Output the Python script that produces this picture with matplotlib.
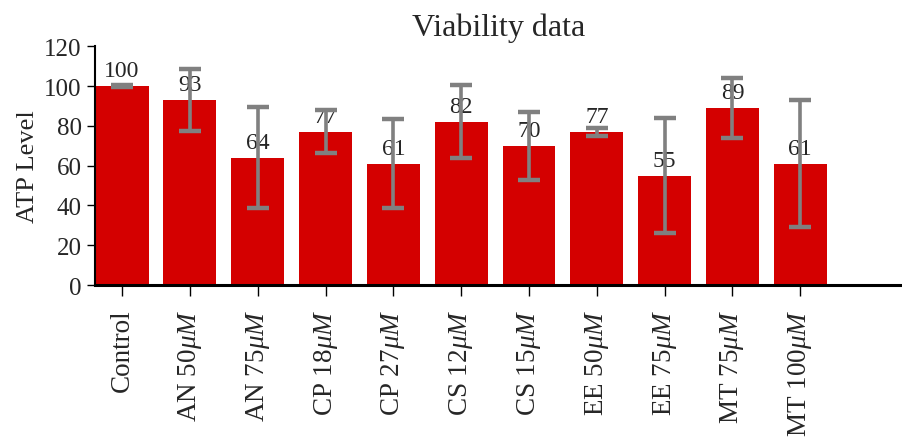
import matplotlib
matplotlib.use("Agg")
import matplotlib.pyplot as plt
import numpy as np

# Treatment groups and measured ATP levels (percent of control)
categories = ["Control", r"AN 50$\mu M$", r"AN 75$\mu M$", r"CP 18$\mu M$",
              r"CP 27$\mu M$", r"CS 12$\mu M$", r"CS 15$\mu M$", r"EE 50$\mu M$",
              r"EE 75$\mu M$", r"MT 75$\mu M$", r"MT 100$\mu M$"]
atp_level = [100, 93, 64, 77, 61, 82, 70, 77, 55, 89, 61]
atp_error = [0.5, 15.4, 25.3, 10.8, 22.3, 18.3, 17.0, 2.1, 28.7, 15.0, 32.0]
yticks = [0, 20, 40, 60, 80, 100, 120]

plt.rcParams["font.family"] = ["Liberation Serif", "DejaVu Serif"]
plt.rcParams["mathtext.fontset"] = "custom"
plt.rcParams["mathtext.rm"] = "Liberation Serif"
plt.rcParams["mathtext.it"] = "Liberation Serif:italic"
text_color = "#262626"

fig = plt.figure(figsize=(9.02, 4.39), dpi=100)
ax = fig.add_axes([0.1053, 0.3485, 0.8947, 0.5438])

x = np.arange(len(categories))
ax.bar(x, atp_level, width=0.78, color="#d40000", zorder=2)
for xi, v in zip(x, atp_level):
    ax.annotate(f"{v}", (xi, v), xytext=(0, 7), textcoords="offset points",
                ha="center", va="baseline", fontsize=17, color=text_color, zorder=3)
ax.errorbar(x, atp_level, yerr=atp_error, fmt="none", ecolor="#808080",
            elinewidth=2.6, capsize=8, capthick=3.2, zorder=4)

ax.set_xlim(-0.4, 11.5)
ax.set_ylim(0, 120)
ax.set_yticks(yticks)
ax.set_xticks(x)
ax.set_xticklabels(categories, rotation=90, fontsize=19.5, color=text_color)
ax.tick_params(axis="y", labelsize=18, labelcolor=text_color, length=6, width=1)
ax.tick_params(axis="x", length=8, width=1, pad=9)
ax.set_ylabel("ATP Level", fontsize=19, color=text_color, labelpad=4)
ax.set_title("Viability data", fontsize=23, color=text_color, pad=8)

for side in ("top", "right"):
    ax.spines[side].set_visible(False)
ax.spines["left"].set_linewidth(1.5)
ax.spines["bottom"].set_linewidth(2.2)

fig.savefig("out.png", dpi=100)
